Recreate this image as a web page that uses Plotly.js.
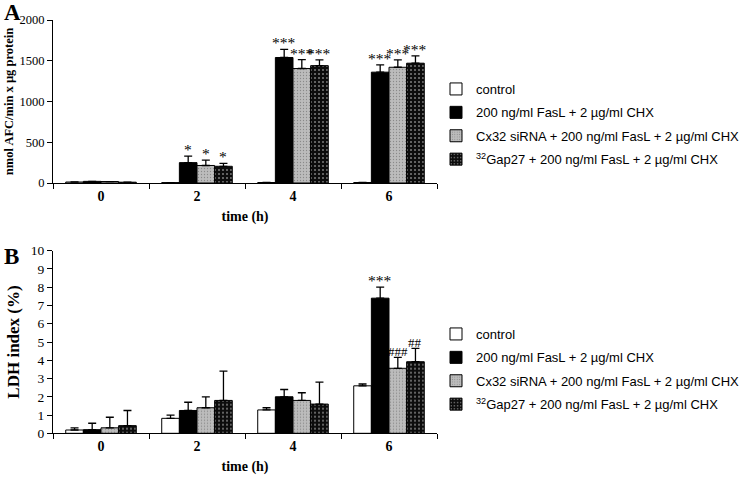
<!DOCTYPE html>
<html><head><meta charset="utf-8">
<script src="https://cdn.plot.ly/plotly-3.0.1.min.js"></script>
<style>html,body{margin:0;padding:0;background:#fff;}#chart{width:756px;height:479px;}</style>
</head><body><div id="chart"></div>
<script>
// ---- data ----
const times = ['0', '2', '4', '6'];
const seriesNames = ['control', '200 ng/ml FasL + 2 µg/ml CHX', 'Cx32 siRNA + 200 ng/ml FasL + 2 µg/ml CHX', '<sup>32</sup>Gap27 + 200 ng/ml FasL + 2 µg/ml CHX'];

// Panel A: caspase activity (nmol AFC/min x µg protein)
const aControl = [12, 5, 6, 6];
const aFasL = [20, 250, 1540, 1360];
const aCx32 = [18, 215, 1405, 1420];
const aGap = [10, 205, 1440, 1470];
const aControlErr = [0, 0, 0, 0];
const aFasLErr = [0, 80, 100, 90];
const aCx32Err = [0, 65, 110, 90];
const aGapErr = [0, 35, 70, 90];
const aMarksFasL = ['', '*', '***', '***'];
const aMarksCx32 = ['', '*', '***', '***'];
const aMarksGap = ['', '*', '***', '***'];

// Panel B: LDH index (%)
const bControl = [0.18, 0.82, 1.28, 2.6];
const bFasL = [0.2, 1.25, 2.0, 7.4];
const bCx32 = [0.3, 1.4, 1.8, 3.56];
const bGap = [0.42, 1.8, 1.6, 3.92];
const bControlErr = [0.12, 0.18, 0.12, 0.1];
const bFasLErr = [0.35, 0.45, 0.4, 0.6];
const bCx32Err = [0.58, 0.6, 0.42, 0.6];
const bGapErr = [0.83, 1.6, 1.2, 0.73];
const bMarksFasL = ['', '', '', '***'];
const bMarksCx32 = ['', '', '', '###'];
const bMarksGap = ['', '', '', '##'];

// ---- styles ----
const W = 756, H = 479;
const plotL = 53, plotR = 437;
const BARGAP = 0.265;
const serif = 'Liberation Serif, Times New Roman, serif';
const sans = 'Liberation Sans, Arial, sans-serif';
const markers = [
  {color: '#ffffff', line: {color: '#000', width: 1}},
  {color: '#000000', line: {color: '#000', width: 1}},
  {color: '#b8b8b8', line: {color: '#000', width: 1}, pattern: {shape: '.', bgcolor: '#bcbcbc', fgcolor: '#8a8a8a', size: 3, solidity: 0.14}},
  {color: '#202020', line: {color: '#000', width: 1}, pattern: {shape: '.', bgcolor: '#0c0c0c', fgcolor: '#e0e0e0', size: 4, solidity: 0.11}}
];

function mkErr(arr) {
  return {type: 'data', array: arr, arrayminus: arr.map(() => 0), symmetric: false, color: '#000', thickness: 1.3, width: 4};
}

const traces = [];
const aVals = [aControl, aFasL, aCx32, aGap], aErrs = [aControlErr, aFasLErr, aCx32Err, aGapErr];
const bVals = [bControl, bFasL, bCx32, bGap], bErrs = [bControlErr, bFasLErr, bCx32Err, bGapErr];
for (let i = 0; i < 4; i++) {
  traces.push({type: 'bar', x: times, y: aVals[i], name: seriesNames[i], marker: markers[i], error_y: mkErr(aErrs[i]), xaxis: 'x', yaxis: 'y', legend: 'legend', legendgroup: 'a' + i});
}
for (let i = 0; i < 4; i++) {
  traces.push({type: 'bar', x: times, y: bVals[i], name: seriesNames[i], marker: markers[i], error_y: mkErr(bErrs[i]), xaxis: 'x2', yaxis: 'y2', legend: 'legend2', legendgroup: 'b' + i});
}

// annotation offsets derived from bar geometry
const catW = (plotR - plotL) / times.length;
const barW = catW * (1 - BARGAP) / 4;
function offs(i) { return (i - 1.5) * barW; }

const annotations = [];
function addMarks(marks, vals, errs, idx, xref, yref, font, dx) {
  marks.forEach((m, k) => {
    if (!m) return;
    // category axis: annotation x is the category index
    annotations.push({x: k, y: vals[k] + errs[k], xref: xref, yref: yref, text: m, showarrow: false, xshift: offs(idx) + (dx || 0), yanchor: 'bottom', yshift: -4, font: font});
  });
}
const starFont = {family: serif, size: 15.5, color: '#000'};
const hashFont = {family: serif, size: 13, color: '#000'};
addMarks(aMarksFasL, aFasL, aFasLErr, 1, 'x', 'y', starFont);
addMarks(aMarksCx32, aCx32, aCx32Err, 2, 'x', 'y', starFont);
addMarks(aMarksGap, aGap, aGapErr, 3, 'x', 'y', starFont);
addMarks(bMarksFasL, bFasL, bFasLErr, 1, 'x2', 'y2', starFont);
addMarks(bMarksCx32, bCx32, bCx32Err, 2, 'x2', 'y2', hashFont);
addMarks(bMarksGap, bGap, bGapErr, 3, 'x2', 'y2', hashFont);

annotations.push({xref: 'paper', yref: 'paper', x: 2 / W, y: 1, yshift: 2, xanchor: 'left', yanchor: 'top', text: '<b>A</b>', showarrow: false, font: {family: serif, size: 23, color: '#000'}});
annotations.push({xref: 'paper', yref: 'paper', x: 2 / W, y: 1 - 242 / H, xanchor: 'left', yanchor: 'top', text: '<b>B</b>', showarrow: false, font: {family: serif, size: 23, color: '#000'}});

const xAxisBase = {
  type: 'category', tickson: 'boundaries', ticks: 'outside', ticklen: 5, tickcolor: '#000', tickwidth: 1,
  range: [-0.5, times.length - 0.5], autorange: false,
  showline: true, linecolor: '#000', linewidth: 1, showgrid: false, zeroline: false,
  tickfont: {family: serif, size: 14, color: '#000', weight: 'bold'},
  title: {text: 'time (h)', font: {family: serif, size: 14, color: '#000', weight: 'bold'}, standoff: 8},
  domain: [plotL / W, plotR / W], fixedrange: true
};
const yAxisBase = {
  ticks: 'outside', ticklen: 5, tickcolor: '#000', tickwidth: 1, showline: true, linecolor: '#000', linewidth: 1,
  showgrid: false, zeroline: false, fixedrange: true, autorange: false
};

const legendBase = {xanchor: 'left', yanchor: 'top', font: {family: sans, size: 13, color: '#000'}, bgcolor: 'rgba(0,0,0,0)', traceorder: 'grouped', tracegroupgap: 3.5, itemclick: false};

const layout = {
  width: W, height: H, margin: {l: 0, r: 0, t: 0, b: 0},
  paper_bgcolor: '#fff', plot_bgcolor: '#fff',
  barmode: 'group', bargap: BARGAP, bargroupgap: 0,
  showlegend: true,
  xaxis: Object.assign({}, xAxisBase, {anchor: 'y'}),
  yaxis: Object.assign({}, yAxisBase, {anchor: 'x', domain: [1 - 183 / H, 1 - 20 / H], range: [0, 2000], dtick: 500,
    tickfont: {family: serif, size: 12.5, color: '#000'},
    title: {text: 'nmol AFC/min x µg protein', font: {family: serif, size: 12.5, color: '#000', weight: 'bold'}, standoff: 3}}),
  xaxis2: Object.assign({}, xAxisBase, {anchor: 'y2'}),
  yaxis2: Object.assign({}, yAxisBase, {anchor: 'x2', domain: [1 - 433.3 / H, 1 - 250.7 / H], range: [0, 10], dtick: 1,
    tickfont: {family: serif, size: 13.5, color: '#000'},
    title: {text: 'LDH index (%)', font: {family: serif, size: 17, color: '#000', weight: 'bold'}, standoff: 6}}),
  legend: Object.assign({}, legendBase, {x: 436 / W, y: 1 - 74 / H}),
  legend2: Object.assign({}, legendBase, {x: 436 / W, y: 1 - 319 / H}),
  annotations: annotations
};

Plotly.newPlot('chart', traces, layout, {staticPlot: true, displayModeBar: false});
</script></body></html>
